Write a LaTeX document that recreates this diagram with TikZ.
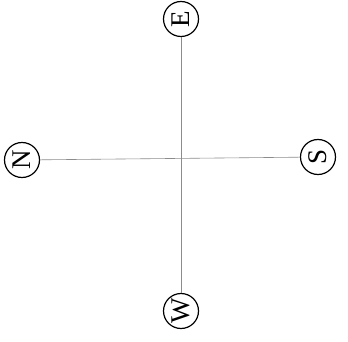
\documentclass[tikz,border=0pt]{standalone}
\usepackage{fontspec}
\setmainfont{Liberation Serif}
\begin{document}
\begin{tikzpicture}[x=1pt,y=-1pt,
  dirc/.style={circle,draw=black,line width=1.2pt,minimum size=35pt,inner sep=0pt,
    font=\fontsize{27}{27}\selectfont,rotate=90},
  axis/.style={draw=black!45,line width=0.6pt}]
\useasboundingbox[fill=white] (0,0) rectangle (348,342);
\node[dirc] (E) at (181,19) {E};
\node[dirc] (N) at (22,160) {N};
\node[dirc] (S) at (318,157) {S};
\node[dirc] (W) at (181,311) {W};
\draw[axis] (N) -- (S);
\draw[axis] (E) -- (W);
\end{tikzpicture}
\end{document}
